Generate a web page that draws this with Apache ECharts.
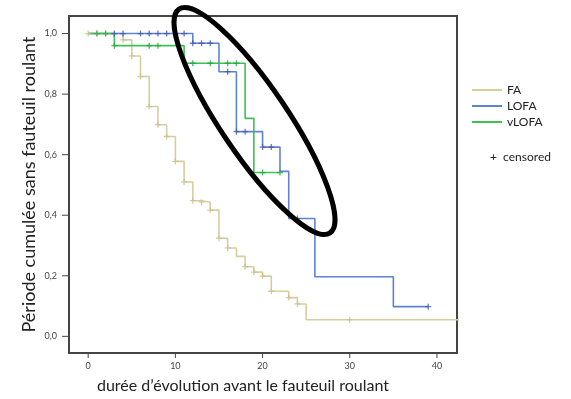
<!DOCTYPE html>
<html>
<head>
<meta charset="utf-8">
<script src="https://cdn.jsdelivr.net/npm/echarts@6/dist/echarts.min.js"></script>
<style>
  html, body { margin: 0; padding: 0; background: #fff; }
  #chart { width: 571px; height: 399px; }
</style>
</head>
<body>
<div id="chart"></div>
<script>
// Kaplan-Meier curves
const faTimes = [0, 4, 5, 6, 7, 8, 9, 10, 11, 12, 13, 14, 15, 16, 17, 18, 19, 20, 21, 23, 24, 25]
const faSurv = [1.0, 0.979, 0.926, 0.858, 0.759, 0.699, 0.660, 0.578, 0.510, 0.448, 0.443, 0.417, 0.324, 0.292, 0.264, 0.230, 0.212, 0.199, 0.149, 0.128, 0.107, 0.055]
const faEnd = 43
const faCens = [0, 1, 2, 4, 5, 6, 7, 8, 9, 10, 11, 12, 13, 14, 15, 16, 18, 19, 20, 21, 23, 24, 30]

const loTimes = [0, 12, 15, 17, 20, 22, 23, 26, 35]
const loSurv = [1.0, 0.968, 0.874, 0.676, 0.625, 0.545, 0.389, 0.197, 0.098]
const loEnd = 39
const loCens = [3, 4, 6, 7, 8, 9, 11, 12, 13, 14, 16, 17, 18, 20, 21, 24, 39]

const vlTimes = [0, 3, 11, 18, 19]
const vlSurv = [1.0, 0.96, 0.902, 0.72, 0.541]
const vlEnd = 22
const vlCens = [1, 2, 3, 7, 8, 12, 14, 16, 17, 20, 22]

const xTicks = [0, 10, 20, 30, 40]
const yTicks = [0, 0.2, 0.4, 0.6, 0.8, 1.0]

const xMin = -2.2, xMax = 42.3
const yMin = -0.055, yMax = 1.058

const colors = { FA: '#d6cea0', LOFA: '#5f82d2', vLOFA: '#3cc155' }
const censColors = { FA: '#cbc18a', LOFA: '#3c58b4', vLOFA: '#22a83c' }

function stepData(times, surv, end) {
  const d = times.map((t, i) => [t, surv[i]])
  d.push([end, surv[surv.length - 1]])
  return d
}
function levelAt(times, surv, t) {
  let v = surv[0]
  for (let i = 0; i < times.length; i++) {
    if (times[i] <= t) v = surv[i]
  }
  return v
}
function censData(times, surv, cens) {
  return cens.map(t => [t, levelAt(times, surv, t)])
}

const plus = 'path://M5,0L5,10M0,5L10,5'

function lineSeries(name, data, z) {
  return {
    name: name,
    type: 'line',
    step: 'end',
    data: data,
    showSymbol: false,
    symbol: 'none',
    z: z,
    itemStyle: { color: colors[name] },
    lineStyle: { color: colors[name], width: 1.6 },
    animation: false
  }
}
function censSeries(name, data) {
  return {
    name: name + ' censored',
    type: 'scatter',
    data: data,
    symbol: plus,
    symbolSize: 6,
    z: 5,
    itemStyle: { color: 'transparent', borderColor: censColors[name], borderWidth: 1.3 },
    animation: false
  }
}

const fmt = v => v.toFixed(1).replace('.', ',')

const chart = echarts.init(document.getElementById('chart'))
chart.setOption({
  backgroundColor: '#fff',
  textStyle: { fontFamily: 'Lato' },
  grid: {
    left: 69, right: 114, top: 16, bottom: 46,
    show: true, borderColor: '#444', borderWidth: 2
  },
  legend: {
    data: ['FA', 'LOFA', 'vLOFA'],
    orient: 'vertical',
    left: 467, top: 79,
    icon: 'rect', itemWidth: 30, itemHeight: 2, itemGap: 4,
    textStyle: { fontSize: 12, color: '#222', fontFamily: 'Lato' }
  },
  xAxis: {
    type: 'value',
    min: xMin, max: xMax,
    splitLine: { show: false },
    axisLine: { show: true, onZero: false, lineStyle: { color: '#444', width: 2 } },
    axisTick: { show: false },
    axisLabel: { customValues: xTicks, fontSize: 9, color: '#444', margin: 9 },
    name: 'durée d\u2019évolution avant le fauteuil roulant',
    nameLocation: 'middle',
    nameGap: 25,
    nameMoveOverlap: false,
    nameTextStyle: { fontSize: 16, color: '#222', padding: [0, 40, 0, 0] }
  },
  yAxis: {
    type: 'value',
    min: yMin, max: yMax,
    splitLine: { show: false },
    axisLine: { show: true, onZero: false, lineStyle: { color: '#444', width: 2 } },
    axisTick: { show: false },
    axisLabel: { customValues: yTicks, fontSize: 9, color: '#444', margin: 12, formatter: fmt },
    name: 'Période cumulée sans fauteuil roulant',
    nameLocation: 'middle',
    nameGap: 31,
    nameMoveOverlap: false,
    nameTextStyle: { fontSize: 18, color: '#222' }
  },
  series: [
    lineSeries('FA', stepData(faTimes, faSurv, faEnd), 2),
    lineSeries('LOFA', stepData(loTimes, loSurv, loEnd), 3),
    lineSeries('vLOFA', stepData(vlTimes, vlSurv, vlEnd), 4),
    censSeries('FA', censData(faTimes, faSurv, faCens)),
    censSeries('LOFA', censData(loTimes, loSurv, loCens)),
    censSeries('vLOFA', censData(vlTimes, vlSurv, vlCens))
  ]
})

// axis ticks, placed through the chart's own scales
const tickEls = []
yTicks.forEach(v => {
  const p = chart.convertToPixel({ gridIndex: 0 }, [xMin, v])
  tickEls.push({
    type: 'line', z: 10, silent: true,
    shape: { x1: p[0] - 7, y1: p[1], x2: p[0], y2: p[1] },
    style: { stroke: '#444', lineWidth: 1 }
  })
})
xTicks.forEach(v => {
  const p = chart.convertToPixel({ gridIndex: 0 }, [v, yMin])
  tickEls.push({
    type: 'line', z: 10, silent: true,
    shape: { x1: p[0], y1: p[1], x2: p[0], y2: p[1] + 5 },
    style: { stroke: '#444', lineWidth: 1 }
  })
})

chart.setOption({
  graphic: tickEls.concat([
    {
      type: 'text', left: 490, top: 151, z: 10,
      style: { text: '+  censored', fontSize: 12, fill: '#222', fontFamily: 'Lato' }
    },
    {
      type: 'ellipse', x: 254.5, y: 121, rotation: -56 * Math.PI / 180, z: 100,
      shape: { cx: 0, cy: 0, rx: 135, ry: 33.5 },
      style: { fill: 'none', stroke: '#000', lineWidth: 5 }
    }
  ])
})
</script>
</body>
</html>
